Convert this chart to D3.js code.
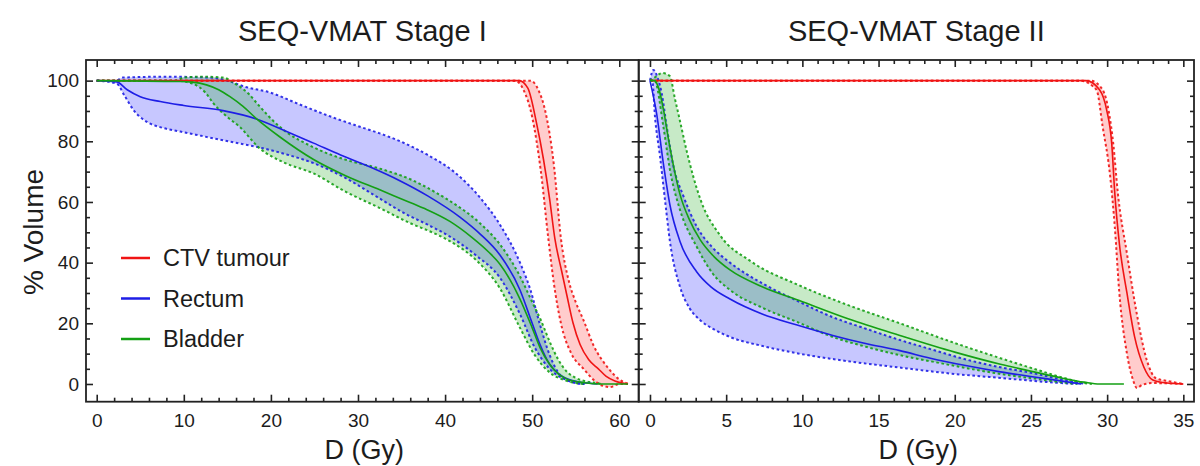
<!DOCTYPE html>
<html>
<head>
<meta charset="utf-8">
<script src="https://cdn.jsdelivr.net/npm/d3@7"></script>
<style>
  html, body { margin: 0; padding: 0; background: #fff; }
  svg { display: block; font-family: "Liberation Sans", Arial, Helvetica, sans-serif; }
</style>
</head>
<body>
<svg id="chart" width="1200" height="466"></svg>
<script>
// Dose-volume histograms: [dose (Gy), volume (%)] for mean and band limits

// ---- Stage I ----
const s1CtvMean = [[0,100],[48.5,100],[49.5,97.5],[50.5,86],[51.3,74],[52,61],[52.6,48],[53.4,37],[54,29],[54.7,20],[55.5,13],[56.5,8],[57.6,5],[58.5,2.5],[59.5,1],[60.5,0.2],[61,0]];
const s1CtvLow  = [[0,100],[48,100],[49,97],[50,88],[51,70],[51.85,48],[52.5,33],[53.3,20],[54.5,10],[55.9,5],[57,1.5],[58,-0.5],[59,-1],[60,0],[61,0]];
const s1CtvHigh = [[0,100],[49.8,100],[50.7,97],[51.5,90],[52.5,72],[53.3,48],[54.2,34],[55,27],[55.9,21],[57,13],[58.8,5],[60,1.5],[61.2,0]];

const s1RectumMean = [[0,100],[2.3,99.6],[3.5,97],[5,94.7],[7.3,93.1],[10,91.8],[14.5,90.1],[18.4,87.3],[22,83],[24.9,79.4],[28,75.5],[31.4,71.5],[34.8,67],[38,62],[41.7,55],[44,49.5],[46.3,42.5],[48.6,31],[50,20],[50.9,13],[52,6.5],[53.2,3],[54.5,1.2],[56,0.4],[57.5,0]];
const s1RectumLow  = [[0,100],[2.3,99],[3.2,95],[4.2,90.4],[5.7,86.5],[7.5,84.5],[9.6,83.2],[12,81.8],[15.3,79.9],[19.1,77.7],[22,75.5],[24.9,72.8],[28.5,68],[32,62],[35.5,56],[38,52.5],[40.6,48.5],[43.5,42.5],[46.3,35],[48.6,23],[50.3,12],[52,5],[53.8,1.5],[55,0.3],[56,0]];
const s1RectumHigh = [[0,100],[2.2,100],[3,101],[8,101.3],[13,101],[15,100],[17,98],[20,96],[23,92.5],[27,88],[30,85],[32.5,82.6],[35,79.8],[38,75.5],[41,70],[44,61.5],[46.3,52.5],[48.6,40],[49.8,31],[50.9,19.5],[52,9.6],[53.2,3],[54.5,0.8],[56,0]];

const s1BladderMean = [[0,100],[9.6,99.7],[11,99.5],[12.6,98.6],[14,97],[15.3,94.7],[16.8,91.5],[18.4,87.3],[21,81.5],[24.9,74],[28.7,68.5],[32.5,64],[35,61],[37.5,58],[40.6,53.5],[43,48.5],[45,43.5],[46.3,39.5],[48.6,28],[50,18.5],[50.9,12],[52,6.5],[53,3.3],[54,1.6],[56,0.4],[58,0],[61,0]];
const s1BladderLow  = [[0,100],[9,100],[11,99],[12.5,96],[13.4,92.5],[15,88],[16.4,84.8],[18.7,77.7],[21.5,73],[24.9,69.4],[28.5,63.5],[32.5,58],[36,53],[38.5,50],[40.6,47],[43.5,41],[46.3,31.5],[48.6,18.5],[50.3,9.5],[52,3.8],[53.8,1.2],[55,0.3],[56,0]];
const s1BladderHigh = [[0,100],[9,100],[10,101],[12,101.3],[14.5,101],[16.1,98.6],[17.5,95.5],[18.4,92.5],[21,84.8],[24.9,78],[28.5,74],[32.5,71],[36,67.5],[39,63],[41,59.5],[44,53],[46.3,46],[48.6,35.5],[50,27],[51,21],[52,14],[53,8],[54,4],[55,2],[56,1],[57,0.5],[58,0]];

// ---- Stage II ----
const s2CtvMean = [[0,100],[28.6,100],[29.5,97],[29.97,90.3],[30.3,79.3],[30.5,63],[30.8,46.4],[31.3,30],[31.8,15.6],[32.4,5.7],[33,1.3],[33.9,0.3],[35,0]];
const s2CtvLow  = [[0,100],[28.2,100],[29.3,97],[29.7,85],[30.2,68.4],[30.5,52],[30.8,30],[31.3,10],[31.7,1.3],[31.95,-1.3],[32.3,-0.3],[33,0.3],[35,0]];
const s2CtvHigh = [[0,100],[28.9,100],[29.7,97],[30.1,90],[30.4,79.3],[30.7,63],[31.3,43],[31.9,24.4],[32.6,7.9],[33.2,1.9],[34.2,0.8],[35,0]];

const s2RectumMean = [[0,100],[0.44,89],[0.87,73],[1.31,59],[1.97,47],[3.06,37],[4,32],[5.25,28],[7.4,23],[9.6,19.5],[12,16],[14,13.5],[16.4,11],[18.4,8.5],[20.8,6],[23,4],[25.2,2.3],[27,1],[28.3,0]];
const s2RectumLow  = [[0,100],[0.15,100],[0.33,88],[0.66,75],[1,60],[1.31,47],[1.97,32],[2.6,25],[3.3,21],[4.2,18],[5.25,15.5],[7.4,12.5],[9.8,10],[13,7.5],[16.4,5.4],[20,3.3],[23,2],[25.2,1],[27.3,0.2],[28,0]];
const s2RectumHigh = [[0,100],[0.22,103.5],[0.5,101],[0.77,95.8],[1.1,84.8],[1.53,72],[2.19,62],[3.06,52],[4.1,45],[5.25,40],[7.43,33],[9.63,27.5],[12,22],[14,18.5],[16.4,14.5],[18.4,11.5],[20.8,8],[23,5.5],[25.2,3.5],[27,1.5],[28.6,0]];

const s2BladderMean = [[0,100],[0.3,100],[0.6,97],[0.9,90],[1.31,78],[1.97,62.5],[2.6,54],[3.3,47.5],[4.2,42],[5.25,37.6],[7.4,32],[9.8,27.5],[13,21.5],[16.4,16],[20,10.5],[23,6.5],[25.2,4],[27,2],[28.5,0.6],[29.5,0],[31.1,0]];
const s2BladderLow  = [[0,100],[0.3,100],[0.88,84.8],[1.31,70.6],[1.97,57.4],[3.06,45.3],[4.1,36.5],[5.25,31],[7.43,25],[9.63,20.5],[12,15.5],[14,12.5],[16.4,9.5],[18.4,7.5],[20.8,5.2],[23,3.3],[25.2,1.8],[27.5,0.3],[28.2,0]];
const s2BladderHigh = [[0,100],[0.3,101],[0.8,102.5],[1.3,101.5],[1.64,94],[2,86],[2.4,77],[3.3,61],[4.6,49],[6.6,40.5],[9.8,32.5],[13,26],[16.4,20],[20,13.5],[23,8.5],[25.2,5],[27.3,1.8],[28.5,0.3],[29,0]];

// Legend and series
const organs = ["CTV tumour", "Rectum", "Bladder"];
const lineColors = ["#f01414", "#1e1ee6", "#14a014"];
const fillColors = ["rgba(255,0,0,0.2)", "rgba(0,0,255,0.22)", "rgba(0,160,0,0.22)"];

// Axis ticks
const panelTitles = ["SEQ-VMAT Stage I", "SEQ-VMAT Stage II"];
const s1DoseTicks = [0, 10, 20, 30, 40, 50, 60];
const s2DoseTicks = [0, 5, 10, 15, 20, 25, 30, 35];
const volumeTicks = [0, 20, 40, 60, 80, 100];

const svg = d3.select("#chart");
const plotTop = 60, plotBottom = 401.7;
const textColor = "#1c1c1c";
const frameColor = "#222";

const y = d3.scaleLinear().domain([-5.84, 106.8]).range([plotBottom, plotTop]);

const panels = [
  { x0: 86, x1: 638.7, domain: [-1.23, 62.23], ticks: s1DoseTicks,
    minor: d3.range(2, 60, 2).filter(d => d % 10 !== 0), title: panelTitles[0],
    series: [[s1CtvMean, s1CtvLow, s1CtvHigh], [s1RectumMean, s1RectumLow, s1RectumHigh], [s1BladderMean, s1BladderLow, s1BladderHigh]] },
  { x0: 638.7, x1: 1194, domain: [-0.74, 35.7], ticks: s2DoseTicks,
    minor: d3.range(1, 35, 1).filter(d => d % 5 !== 0), title: panelTitles[1],
    series: [[s2CtvMean, s2CtvLow, s2CtvHigh], [s2RectumMean, s2RectumLow, s2RectumHigh], [s2BladderMean, s2BladderLow, s2BladderHigh]] }
];

const minorVol = d3.range(5, 100, 5).filter(d => d % 20 !== 0);
const defs = svg.append("defs");

panels.forEach((p, i) => {
  const x = d3.scaleLinear().domain(p.domain).range([p.x0, p.x1]);
  const g = svg.append("g");

  const clipId = "clip" + i;
  defs.append("clipPath").attr("id", clipId)
    .append("rect").attr("x", p.x0).attr("y", plotTop).attr("width", p.x1 - p.x0).attr("height", plotBottom - plotTop);

  const line = d3.line().x(d => x(d[0])).y(d => y(d[1])).curve(d3.curveMonotoneX);
  const plot = g.append("g").attr("clip-path", `url(#${clipId})`);

  // bands
  p.series.forEach((s, k) => {
    const hi = s[2], lo = s[1].slice().reverse();
    const d = line(hi) + line(lo).replace(/^M/, "L") + "Z";
    plot.append("path").attr("d", d).attr("fill", fillColors[k]).attr("stroke", "none");
  });
  // dotted limits
  p.series.forEach((s, k) => {
    [s[1], s[2]].forEach(arr => {
      plot.append("path").attr("d", line(arr)).attr("fill", "none")
        .attr("stroke", lineColors[k]).attr("stroke-width", 2)
        .attr("stroke-dasharray", "2.6,2.6").attr("opacity", 0.9);
    });
  });
  // mean curves
  p.series.forEach((s, k) => {
    plot.append("path").attr("d", line(s[0])).attr("fill", "none")
      .attr("stroke", lineColors[k]).attr("stroke-width", 1.6);
  });

  // axes: ticks pointing inwards on all sides
  const styleAxis = sel => {
    sel.select(".domain").remove();
    sel.selectAll("line").attr("stroke", frameColor).attr("stroke-width", 1.6);
    sel.selectAll("text").attr("fill", textColor).attr("font-size", 19)
      .attr("font-family", "Liberation Sans, Arial, sans-serif");
  };
  const bottomAxis = d3.axisBottom(x).tickValues(p.ticks).tickFormat(d3.format("d")).tickSize(-7).tickPadding(12);
  g.append("g").attr("transform", `translate(0,${plotBottom})`).call(bottomAxis).call(styleAxis);
  g.append("g").attr("transform", `translate(0,${plotBottom})`)
    .call(d3.axisBottom(x).tickValues(p.minor).tickFormat("").tickSize(-4)).call(styleAxis);
  g.append("g").attr("transform", `translate(0,${plotTop})`)
    .call(d3.axisTop(x).tickValues(p.ticks).tickFormat("").tickSize(-7)).call(styleAxis);
  g.append("g").attr("transform", `translate(0,${plotTop})`)
    .call(d3.axisTop(x).tickValues(p.minor).tickFormat("").tickSize(-4)).call(styleAxis);

  const leftAxis = d3.axisLeft(y).tickValues(volumeTicks).tickSize(-7).tickPadding(7);
  if (i > 0) leftAxis.tickFormat("");
  g.append("g").attr("transform", `translate(${p.x0},0)`).call(leftAxis).call(styleAxis);
  g.append("g").attr("transform", `translate(${p.x0},0)`)
    .call(d3.axisLeft(y).tickValues(minorVol).tickFormat("").tickSize(-4)).call(styleAxis);
  g.append("g").attr("transform", `translate(${p.x1},0)`)
    .call(d3.axisRight(y).tickValues(volumeTicks).tickFormat("").tickSize(-7)).call(styleAxis);
  g.append("g").attr("transform", `translate(${p.x1},0)`)
    .call(d3.axisRight(y).tickValues(minorVol).tickFormat("").tickSize(-4)).call(styleAxis);

  // frame
  g.append("rect").attr("x", p.x0).attr("y", plotTop).attr("width", p.x1 - p.x0).attr("height", plotBottom - plotTop)
    .attr("fill", "none").attr("stroke", frameColor).attr("stroke-width", 1.8);

  // titles
  const cx = (p.x0 + p.x1) / 2;
  g.append("text").attr("x", cx).attr("y", 41).attr("text-anchor", "middle")
    .attr("font-size", 29).attr("fill", textColor).text(p.title);
  g.append("text").attr("x", cx + 2).attr("y", 459).attr("text-anchor", "middle")
    .attr("font-size", 27).attr("fill", textColor).text("D (Gy)");
});

// y-axis title
svg.append("text").attr("transform", "translate(43,232) rotate(-90)").attr("text-anchor", "middle")
  .attr("font-size", 28).attr("fill", textColor).text("% Volume");

// legend
const legendY = d3.scalePoint().domain(organs).range([258, 339]);
const legend = svg.append("g");
organs.forEach((o, k) => {
  legend.append("line").attr("x1", 121).attr("x2", 150).attr("y1", legendY(o)).attr("y2", legendY(o))
    .attr("stroke", lineColors[k]).attr("stroke-width", 2.5);
  legend.append("text").attr("x", 163).attr("y", legendY(o)).attr("dy", "0.36em")
    .attr("font-size", 23.5).attr("fill", textColor).text(o);
});
</script>
</body>
</html>
